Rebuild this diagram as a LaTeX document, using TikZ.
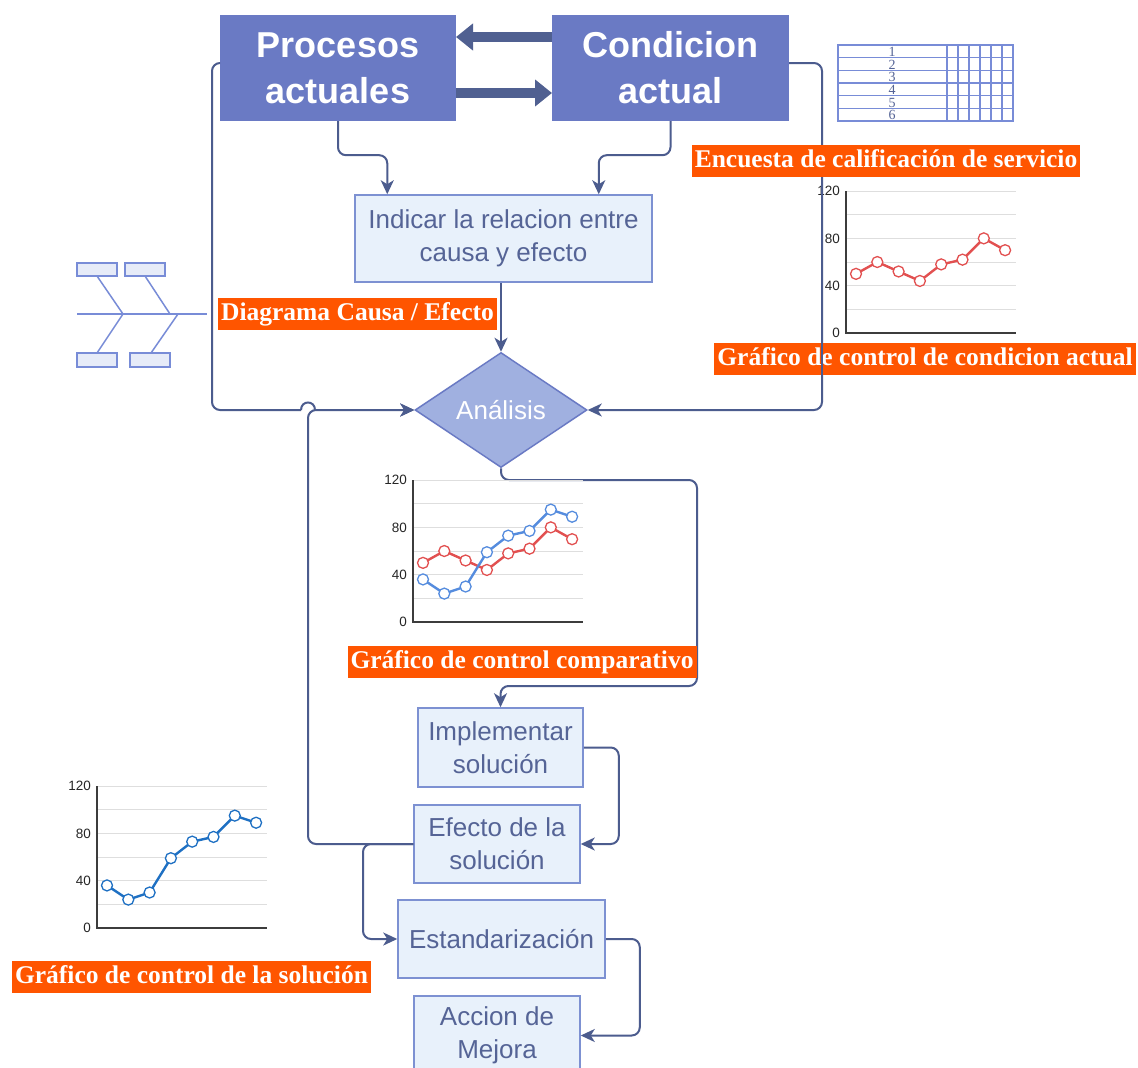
\documentclass[tikz,border=0pt]{standalone}
\usepackage{fontspec}
\setmainfont{Liberation Serif}
\setsansfont{Liberation Sans}
\usetikzlibrary{arrows.meta,shapes.geometric}

\definecolor{linkc}{RGB}{76,92,142}
\definecolor{thickc}{RGB}{80,96,145}
\definecolor{topfill}{RGB}{106,122,196}
\definecolor{diafill}{RGB}{160,176,224}
\definecolor{boxfill}{RGB}{232,241,251}
\definecolor{boxdraw}{RGB}{125,145,210}
\definecolor{boxtext}{RGB}{85,100,150}
\definecolor{tagfill}{RGB}{255,85,0}
\definecolor{gridc}{RGB}{222,222,222}
\definecolor{axisc}{RGB}{60,60,60}
\definecolor{redser}{RGB}{226,80,80}
\definecolor{blueser}{RGB}{85,140,222}
\definecolor{darkser}{RGB}{30,112,195}
\definecolor{iconc}{RGB}{120,140,215}
\definecolor{iconfill}{RGB}{230,235,248}

% axes, grid and tick labels of a small control chart (x origin, y of the zero line)
\newcommand{\chartframe}[2]{%
  \foreach \v in {20,40,...,120}
    \draw[gridline] (#1,{#2-\v*1.183}) -- ({#1+170},{#2-\v*1.183});
  \draw[axisline] (#1,{#2-142}) -- (#1,#2) -- ({#1+170},#2);
  \foreach \v in {0,40,80,120}
    \node[ticklab] at ({#1-6},{#2-\v*1.183}) {\v};
}
% one data series: x origin, zero line, colour, values
\newcommand{\chartline}[4]{%
  \foreach \v [count=\i, remember=\v as \pv (initially 0)] in {#4} {
    \ifnum\i>1
      \draw[serline=#3] ({#1+10+(\i-2)*21.3},{#2-\pv*1.183}) -- ({#1+10+(\i-1)*21.3},{#2-\v*1.183});
    \fi
  }
  \foreach \v [count=\i] in {#4}
    \node[serdot=#3] at ({#1+10+(\i-1)*21.3},{#2-\v*1.183}) {};
}

\begin{document}
\begin{tikzpicture}[x=1pt,y=-1pt,
  topbox/.style={fill=topfill, text=white, minimum width=236pt, minimum height=106pt,
    inner sep=0pt, align=center, font=\sffamily\bfseries\fontsize{36}{46}\selectfont},
  stepbox/.style={draw=boxdraw, line width=1.5pt, fill=boxfill, text=boxtext, inner sep=0pt,
    align=center, font=\sffamily\fontsize{26}{33}\selectfont},
  decision/.style={diamond, draw=topfill, line width=1.5pt, fill=diafill, text=white,
    minimum width=172pt, minimum height=115pt, inner sep=0pt, font=\sffamily\fontsize{26}{30}\selectfont},
  tag/.style={fill=tagfill, text=white, font=\bfseries\fontsize{25.5}{26}\selectfont,
    inner xsep=3pt, inner ysep=0pt, text height=19pt, text depth=6pt, minimum height=32pt},
  link/.style={draw=linkc, line width=2pt, rounded corners=8pt},
  arr/.style={-{Stealth[length=14pt,width=13pt,inset=4pt]}},
  bigarr/.style={draw=thickc, line width=10pt, -{Triangle[length=17pt,width=26pt]}},
  icon/.style={draw=iconc, line width=1.5pt},
  gridline/.style={draw=gridc, line width=1pt},
  axisline/.style={draw=axisc, line width=1.5pt},
  ticklab/.style={anchor=east, inner sep=0pt, text=black!85, font=\sffamily\fontsize{13.5}{13.5}\selectfont},
  serline/.style={draw=#1, line width=2.4pt, line cap=round},
  serdot/.style={circle, draw=#1, fill=white, line width=1.3pt, minimum size=11pt, inner sep=0pt},
  tabnum/.style={inner sep=0pt, text=boxtext, font=\fontsize{14}{14}\selectfont}
]
\fill[white] (0,0) rectangle (1138,1068);
\useasboundingbox (0,0) rectangle (1138,1068);

% ---------- main flow ----------
\node[topbox] (proc) at (338,68) {Procesos\\actuales};
\node[topbox, minimum width=237pt] (cond) at (670.5,68) {Condicion\\actual};
\node[stepbox, minimum width=297pt, minimum height=87pt] (rel) at (503.5,238.5)
  {Indicar la relacion entre\\causa y efecto};
\node[decision] (ana) at (501,410) {Análisis};
\node[stepbox, minimum width=165pt, minimum height=79pt] (impl) at (500.5,747.5) {Implementar\\solución};
\node[stepbox, minimum width=166pt, minimum height=78pt] (efec) at (497,844) {Efecto de la\\solución};
\node[stepbox, minimum width=207pt, minimum height=78pt] (std) at (501.5,939) {Estandarización};
\node[stepbox, minimum width=166pt, minimum height=79pt] (acc) at (497,1035.5) {Accion de\\Mejora};

% thick arrows between the two top blocks
\coordinate (tA) at (552,37);
\coordinate (tB) at (456,37);
\coordinate (bA) at (456,93);
\coordinate (bB) at (552,93);
\draw[bigarr] (tA) -- (tB);
\draw[bigarr] (bA) -- (bB);

% connectors
\draw[link,arr] (proc.south) -- ++(0,34) -| ([xshift=33pt]rel.north west);
\draw[link,arr] (cond.south) -- ++(0,34) -| ([xshift=-54pt]rel.north east);
\draw[link,arr] (rel.south -| ana.north) -- (ana.north);

\coordinate (lA) at (212,63);
\coordinate (lB) at (212,410);
\coordinate (jA) at (301,410);
\coordinate (jB) at (315,410);
\draw[link] ([yshift=5pt]proc.west) -- (lA) -- (lB) -- (jA);
\draw[link] (jA) .. controls (301,400) and (315,400) .. (jB);
\draw[link,arr] (jB) -- (ana.west);

\coordinate (rA) at (822,63);
\coordinate (rB) at (822,410);
\draw[link,arr] ([yshift=5pt]cond.east) -- (rA) -- (rB) -- (ana.east);

\coordinate (dA) at (697,480);
\coordinate (dB) at (697,686);
\draw[link,arr] (ana.south) |- (dA) -- (dB) -| (impl.north);

\draw[link,arr] (impl.east) -- ++(35,0) |- (efec.east);
\draw[link,arr] (std.east) -- ++(34,0) |- (acc.east);

\coordinate (eA) at (308,844);
\coordinate (eB) at (308,410);
\draw[link,arr] (efec.west) -- (eA) -- (eB) -- (ana.west);
\coordinate (sA) at (363,844);
\coordinate (sB) at (363,939);
\draw[link,arr] (efec.west) -- (sA) -- (sB) -- (std.west);

% ---------- labels ----------
\node[tag] (t1) at (886,160.5) {Encuesta de calificación de servicio};
\node[tag] (t2) at (357.5,314) {Diagrama Causa / Efecto};
\node[tag] (t3) at (925,359) {Gráfico de control de condicion actual};
\node[tag] (t4) at (522,662) {Gráfico de control comparativo};
\node[tag] (t5) at (191.5,977) {Gráfico de control de la solución};

% ---------- survey table ----------
\draw[icon] (838,45) rectangle (1013,121);
\foreach \k in {1,...,5}
  \draw[icon] (838,{45+\k*12.67}) -- (1013,{45+\k*12.67});
\foreach \xx in {947,958,969,980,991,1002}
  \draw[icon] (\xx,45) -- (\xx,121);
\foreach \k in {1,...,6}
  \node[tabnum] at (892,{45.5+(\k-0.5)*12.67}) {\k};

% ---------- cause / effect sketch ----------
\draw[icon] (77,314) -- (207,314);
\draw[icon] (97,276) -- (123,314) -- (97,353);
\draw[icon] (145,276) -- (170,314);
\draw[icon] (178,314) -- (151,353);
\draw[icon, fill=iconfill] (77,263) rectangle (117,276);
\draw[icon, fill=iconfill] (125,263) rectangle (165,276);
\draw[icon, fill=iconfill] (77,353) rectangle (117,367);
\draw[icon, fill=iconfill] (130,353) rectangle (170,367);

% ---------- control charts ----------
\chartframe{846}{333}
\chartline{846}{333}{redser}{50,60,52,44,58,62,80,70}

\chartframe{413}{622}
\chartline{413}{622}{redser}{50,60,52,44,58,62,80,70}
\chartline{413}{622}{blueser}{36,24,30,59,73,77,95,89}

\chartframe{97}{928}
\chartline{97}{928}{darkser}{36,24,30,59,73,77,95,89}

% connector crossing the first chart stays on top
\draw[link] (822,180) -- (822,380);
\end{tikzpicture}
\end{document}
